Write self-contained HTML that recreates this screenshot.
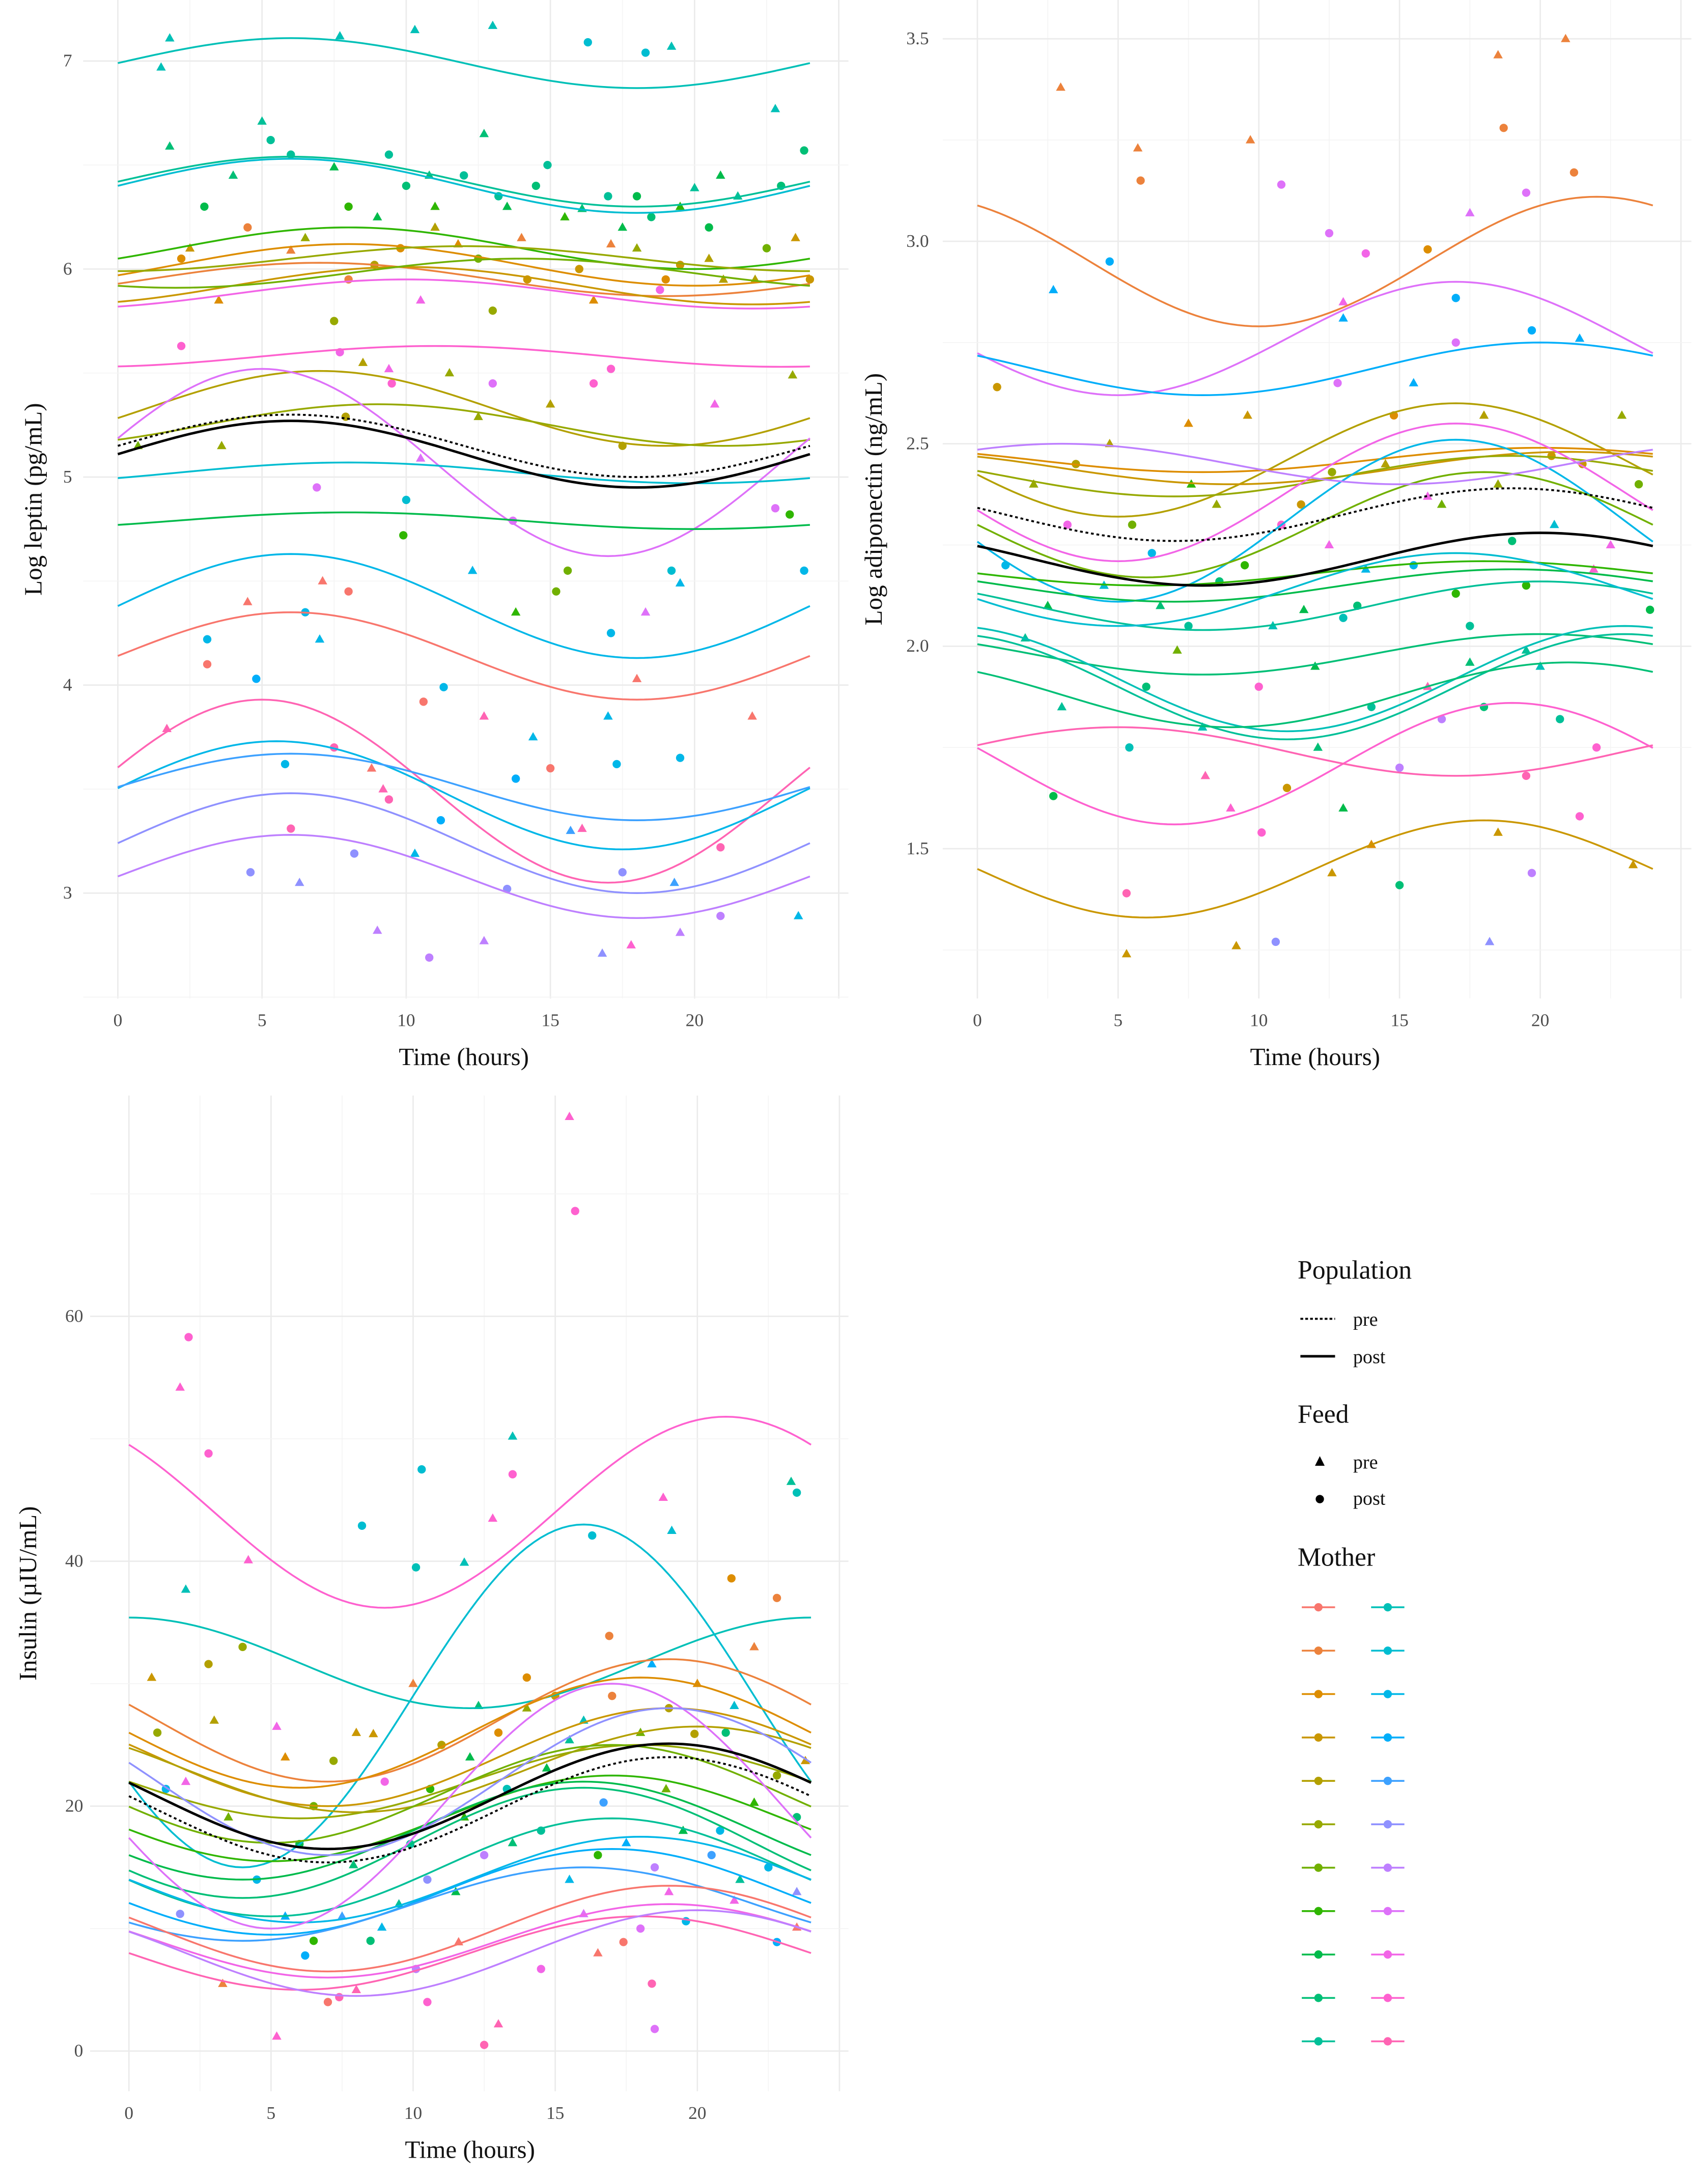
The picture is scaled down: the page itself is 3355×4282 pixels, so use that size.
<!DOCTYPE html>
<html><head><meta charset="utf-8">
<style>
html,body{margin:0;padding:0;background:#fff;}
svg{display:block;font-family:"Liberation Serif",serif;}
</style></head>
<body>
<svg id="chart" width="3355" height="4282" viewBox="0 0 1232 1572" preserveAspectRatio="none" xmlns="http://www.w3.org/2000/svg"></svg>
<script>
// ---------- Panel 1 : leptin ----------
const lepMother=[11,10,12,7,2,1,3,5,6,19,20,4,5,18,12,8,13,0,21,13,15,16,17];
const lepMesor=[6.99,6.42,6.40,6.10,6.02,5.95,5.92,6.05,5.98,5.88,5.58,5.33,5.25,5.07,5.02,4.79,4.38,4.14,3.49,3.47,3.51,3.24,3.08];
const lepAmp=[0.12,0.12,0.13,0.10,0.10,0.08,0.09,0.06,0.07,0.07,0.05,0.18,0.10,0.45,0.05,0.04,0.25,0.21,0.44,0.26,0.16,0.24,0.20];
const lepPeak=[6,6,6,8,8,7,10,12,14,10,11,7,9,5,8,8,6,6,5,5.5,6,6,6];
const lepPopMesor=[5.15,5.11];
const lepPopAmp=[0.15,0.16];
const lepPopPeak=[6,6];
const lepPtsA=[[1.8,7.11,11,0],[7.7,7.12,11,0],[10.3,7.15,11,0],[13,7.17,11,0],[16.3,7.09,12,1],[18.3,7.04,12,1],[19.2,7.07,11,0],[22.8,6.77,11,0],[1.5,6.97,11,0],
[5,6.71,10,0],[1.8,6.59,9,0],[5.3,6.62,10,1],[10.8,6.45,9,0],[13.2,6.35,10,1],[16.1,6.29,9,0],[18,6.35,8,1],[20,6.39,10,0],[23.8,6.57,9,1],[7.5,6.49,8,0],[9.4,6.55,10,1],[12.7,6.65,9,0],[14.9,6.5,10,1],[20.9,6.45,8,0],
[2.2,6.05,2,1],[6,6.09,1,0],[8.9,6.02,4,1],[11.8,6.12,2,0],[14.2,5.95,3,1],[17.1,6.12,1,0],[19.5,6.02,3,1],[22.1,5.95,4,0],[24,5.95,3,1],[3.5,5.85,2,0],[7.5,5.75,5,1],
[2.2,5.63,20,1],[9.4,5.52,19,0],[17.1,5.52,20,1],[20.7,5.35,19,0],
[3.6,5.15,5,0],[7.9,5.29,4,1],[12.5,5.29,5,0],[17.5,5.15,4,1],[23.4,5.49,5,0],
[6.9,4.95,18,1],[10.5,5.09,18,0],[13.7,4.79,18,1],[18.3,4.35,18,0],[22.8,4.85,18,1],
[3.1,4.22,13,1],[7,4.22,13,0],[10,4.89,12,1],[11.3,3.99,13,1],[17.1,4.25,13,1],[19.5,4.49,13,0],[23.8,4.55,13,1],[4.8,4.03,14,1],
[3.1,4.1,0,1],[7.1,4.5,0,0],[10.6,3.92,0,1],[18,4.03,0,0],[22,3.85,0,0],
[0.7,5.15,6,0],[9.9,4.72,7,1],[15.6,4.55,6,1],[23.3,4.82,7,1],
[1.7,3.79,21,0],[6,3.31,21,1],[9.4,3.45,21,1],[12.7,3.85,21,0],[16.1,3.31,21,0],[17.8,2.75,20,0],[20.9,3.22,21,1],
[5.8,3.62,13,1],[10.3,3.19,13,0],[14.4,3.75,13,0],[19.5,3.65,13,1],[17.3,3.62,13,1],[23.6,2.89,13,0],
[4.6,3.1,16,1],[8.2,3.19,16,1],[9,2.82,17,0],[10.8,2.69,17,1],[13.5,3.02,16,1],[16.8,2.71,16,0],[19.5,2.81,17,0],[20.9,2.89,17,1],[12.7,2.77,17,0]];
const lepPtsB=[[3,6.3,8,1],[4,6.45,9,0],[6,6.55,10,1],[8,6.3,7,1],[9,6.25,8,0],[10,6.4,9,1],[11,6.3,7,0],[12,6.45,10,1],[13.5,6.3,8,0],[14.5,6.4,9,1],[15.5,6.25,7,0],[17,6.35,10,1],[17.5,6.2,8,0],[18.5,6.25,9,1],[19.5,6.3,7,0],[20.5,6.2,8,1],[21.5,6.35,10,0],[23,6.4,9,1],
[2.5,6.1,3,0],[4.5,6.2,1,1],[6.5,6.15,5,0],[9.8,6.1,2,1],[11,6.2,4,0],[12.5,6.05,6,1],[14,6.15,1,0],[16,6.0,3,1],[18,6.1,5,0],[19,5.95,2,1],[20.5,6.05,4,0],[22.5,6.1,6,1],[23.5,6.15,3,0],[8,5.95,1,1],[10.5,5.85,19,0],[13,5.8,5,1],[16.5,5.85,2,0],[18.8,5.9,19,1],[21,5.95,4,0],
[7.7,5.6,19,1],[8.5,5.55,4,0],[9.5,5.45,20,1],[11.5,5.5,5,0],[13,5.45,18,1],[15,5.35,4,0],[16.5,5.45,20,1],
[4.5,4.4,0,0],[6.5,4.35,13,1],[8,4.45,0,1],[12.3,4.55,13,0],[13.8,4.35,7,0],[15.2,4.45,6,1],
[9.2,3.5,21,0],[13.8,3.55,14,1],[15.7,3.3,15,0],[17.5,3.1,16,1],[19.3,3.05,15,0],[11.2,3.35,14,1],[6.3,3.05,16,0],[8.8,3.6,0,0],[7.5,3.7,21,1],[15,3.6,0,1],[17,3.85,13,0],[19.2,4.55,12,1]];
const lepPts=lepPtsA.concat(lepPtsB);
const lepYTicks=[3,4,5,6,7];
const xTicks=[0,5,10,15,20];

// ---------- Panel 2 : adiponectin ----------
const adiMother=[1,18,14,4,2,3,5,19,13,6,7,8,10,9,11,20,3,21,17,10,9,12];
const adiMesor=[2.95,2.76,2.685,2.46,2.46,2.44,2.42,2.38,2.31,2.30,2.18,2.15,2.10,1.98,1.92,1.71,1.45,1.74,2.45,1.90,1.88,2.14];
const adiAmp=[0.16,0.14,0.065,0.14,0.03,0.04,0.05,0.17,0.2,0.13,0.03,0.04,0.06,0.05,0.13,0.15,0.12,0.06,0.05,0.13,0.08,0.09];
const adiPeak=[22,17,20,17,20,21,19,17,17,18,18,19,20,20,23,19,18,5,3,23,21,17];
const adiPopMesor=[2.325,2.215];
const adiPopAmp=[0.065,0.065];
const adiPopPeak=[19,20];
const adiPtsA=[[2.96,3.38,1,0],[5.7,3.23,1,0],[9.7,3.25,1,0],[18.5,3.46,1,0],[20.9,3.5,1,0],[18.7,3.28,1,1],[21.2,3.17,1,1],[5.8,3.15,1,1],[16,2.98,2,1],
[10.8,3.14,18,1],[12.5,3.02,18,1],[17.5,3.07,18,0],[19.5,3.12,18,1],[13.8,2.97,19,1],
[2.7,2.88,14,0],[4.7,2.95,14,1],[13,2.81,14,0],[17,2.86,14,1],[19.7,2.78,14,1],[21.4,2.76,14,0],
[0.7,2.64,3,1],[2,2.4,5,0],[3.2,2.3,19,1],[4.7,2.5,4,0],[6.2,2.23,13,1],[7.6,2.4,7,0],[8.6,2.16,9,1],[9.6,2.57,3,0],[10.8,2.3,20,1],[11.6,2.09,8,0],[12.6,2.43,5,1],[13.8,2.19,13,0],[14.8,2.57,2,1],[16,2.37,19,0],[17,2.13,7,1],[18,2.57,4,0],[19,2.26,9,1],[19.5,1.99,10,0],[20.4,2.47,3,1],[21.9,2.19,20,0],[22.9,2.57,5,0],[23.9,2.09,8,1],[1.7,2.02,10,0],[7.1,1.99,6,0],[13,2.07,11,1],[17.5,1.96,9,0],[20.7,1.82,10,1],
[2.7,1.63,8,1],[5.4,1.75,11,1],[8.1,1.68,21,0],[10.1,1.54,20,1],[12.1,1.75,9,0],[14,1.51,2,0],[16.5,1.82,17,1],[18.5,1.54,3,0],[19.5,1.68,21,1],[21.4,1.58,20,1],[5.3,1.39,21,1],[5.3,1.24,3,0],[9.2,1.26,3,0],[10.6,1.27,16,1],[12.6,1.44,3,0],[15,1.41,9,1],[18.2,1.27,16,0],[19.7,1.44,17,1],[23.3,1.46,3,0]];
const adiPtsB=[[1,2.2,13,1],[2.5,2.1,8,0],[3.5,2.45,4,1],[4.5,2.15,12,0],[5.5,2.3,6,1],[6.5,2.1,9,0],[7.5,2.05,10,1],[8.5,2.35,5,0],[9.5,2.2,7,1],[10.5,2.05,11,0],[11.5,2.35,3,1],[12.5,2.25,19,0],[13.5,2.1,9,1],[14.5,2.45,4,0],[15.5,2.2,13,1],[16.5,2.35,6,0],[17.5,2.05,10,1],[18.5,2.4,5,0],[19.5,2.15,7,1],[20.5,2.3,12,0],[21.5,2.45,3,1],[22.5,2.25,19,0],[23.5,2.4,6,1],
[3,1.85,10,0],[6,1.9,9,1],[8,1.8,11,0],[10,1.9,20,1],[12,1.95,8,0],[14,1.85,10,1],[16,1.9,21,0],[18,1.85,9,1],[20,1.95,11,0],[22,1.75,20,1],[9,1.6,20,0],[11,1.65,3,1],[13,1.6,8,0],[15,1.7,17,1],
[7.5,2.55,2,0],[12.8,2.65,18,1],[15.5,2.65,14,0],[17,2.75,18,1],[13,2.85,19,0]];
const adiPts=adiPtsA.concat(adiPtsB);
const adiYTicks=[1.5,2.0,2.5,3.0,3.5];

// ---------- Panel 3 : insulin ----------
const insMother=[20,11,12,1,2,3,4,5,6,7,8,9,10,13,14,15,0,19,21,17,18,16];
const insMesor=[44,31.7,29,27,26,24,23,22,21,19,18,17,15,14,13,12,10,9,8,8,20,22];
const insAmp=[7.8,3.7,14,5,4.5,4,3.5,3,4,3.5,4,4.5,4,3.5,3.5,3,3.5,3,3,3.5,10,6];
const insPeak=[21,0,16,19,18,19,20,18,17,17,16,16,17,18,17,16,19,19,18,20,17,19];
const insPopMesor=[19.7,20.8];
const insPopAmp=[4.3,4.3];
const insPopPeak=[19,19];
const insPtsA=[[15.5,76.3,20,0],[15.7,68.6,20,1],[2.1,58.3,20,1],[1.8,54.2,20,0],[2.8,48.8,20,1],[13.5,50.2,11,0],[13.5,47.1,20,1],[10.3,47.5,12,1],[23.3,46.5,10,0],[23.5,45.6,11,1],[8.2,42.9,12,1],[16.3,42.1,12,1],[18.8,45.2,20,0],[19.1,42.5,12,0],[12.8,43.5,20,0],[4.2,40.1,20,0],[10.1,39.5,11,1],[11.8,39.9,11,0],[2.0,37.7,11,0],[22.8,37.0,1,1],[21.2,38.6,2,1],
[0.8,30.5,3,0],[2.8,31.6,4,1],[5.2,26.5,19,0],[7.2,23.7,5,1],[8.6,25.9,3,0],[10.6,21.4,7,1],[12.3,28.2,9,0],[14,30.5,2,1],[15.5,25.4,10,0],[16.9,33.9,1,1],[18.4,31.6,14,0],[19.9,25.9,4,1],[21.3,28.2,12,0],[22.8,22.5,5,1],[23.8,23.7,3,0],[1.3,21.4,13,1],[3.5,19.1,6,0],[6,16.9,8,1],[7.9,15.2,9,0],[9.9,16.9,10,1],[11.8,19.1,7,0],[13.3,21.4,11,1],[14.7,23.1,8,0],[16.7,20.3,15,1],[18.9,21.4,6,0],[20.8,18,13,1],[22,20.3,7,0],[23.5,19.1,9,1],
[1.8,11.2,16,1],[3.3,5.5,1,0],[5.2,1.2,20,0],[6.2,7.8,14,1],[7.4,4.4,21,1],[8.9,10.1,13,0],[10.1,6.7,17,1],[11.6,8.9,0,0],[12.5,0.5,21,1],[13,2.2,21,0],[14.5,6.7,19,1],[16,11.2,18,0],[17.4,8.9,0,1],[18.4,5.5,21,1],[18.5,1.8,18,1],[19.6,10.6,13,1],[21.3,12.3,19,0],[22.8,8.9,14,1],[23.5,10.1,0,0]];
const insPtsB=[[3,27,4,0],[4,33,5,1],[5.5,24,2,0],[6.5,20,6,1],[8,26,3,0],[9,22,19,1],[10,30,1,0],[11,25,4,1],[12,24,8,0],[13,26,2,1],[14,28,5,0],[15,29,3,1],[16,27,11,0],[17,29,1,1],[18,26,6,0],[19,28,4,1],[20,30,2,0],[21,26,9,1],[22,33,1,0],[1,26,5,1],[2,22,19,0],
[4.5,14,13,1],[5.5,11,14,0],[6.5,9,7,1],[7.5,11,15,0],[8.5,9,9,1],[9.5,12,10,0],[10.5,14,16,1],[11.5,13,8,0],[12.5,16,17,1],[13.5,17,9,0],[14.5,18,10,1],[15.5,14,13,0],[16.5,16,7,1],[17.5,17,14,0],[18.5,15,17,1],[19.5,18,8,0],[20.5,16,15,1],[21.5,14,10,0],[22.5,15,13,1],[23.5,13,16,0],
[7,4,0,1],[8,5,21,0],[10.5,4,20,1],[16.5,8,0,0],[18,10,18,1],[19,13,19,0]];
const insPts=insPtsA.concat(insPtsB);
const insYTicks=[0,20,40,60];

// ---------- helpers ----------
const NS="http://www.w3.org/2000/svg";
const svg=document.getElementById('chart');
function hcl(h,c,l){const hr=h*Math.PI/180;const u=c*Math.cos(hr),v=c*Math.sin(hr);
 const Y=l>8?100*Math.pow((l+16)/116,3):100*l/903.3;const un=0.19784,vn=0.46834;
 const up=u/(13*l)+un,vp=v/(13*l)+vn;const X=Y*9*up/(4*vp);const Z=Y*(12-3*up-20*vp)/(4*vp);
 const x=X/100,y=Y/100,z=Z/100;
 let r=3.2404542*x-1.5371385*y-0.4985314*z,g=-0.9692660*x+1.8760108*y+0.0415560*z,b=0.0556434*x-0.2040259*y+1.0572252*z;
 const gm=t=>{t=t<=0.0031308?12.92*t:1.055*Math.pow(t,1/2.4)-0.055;return Math.round(Math.max(0,Math.min(1,t))*255);};
 return `rgb(${gm(r)},${gm(g)},${gm(b)})`;}
const COLORS=[];for(let i=0;i<22;i++)COLORS.push(hcl(15+360*i/23,100,65));
function el(tag,attrs,parent){const e=document.createElementNS(NS,tag);for(const k in attrs)e.setAttribute(k,attrs[k]);(parent||svg).appendChild(e);return e;}
function cosinor(m,a,p,t){return m+a*Math.cos(2*Math.PI*(t-p)/24);}

function panel(cfg){
 const g=el('g',{});
 
 
 const X=t=>cfg.x0+(t)*cfg.xs;
 const Y=v=>cfg.y0-(v-cfg.v0)*cfg.ys;
 for(let t=-2.5;t<=25;t+=2.5){const x=X(t);if(x<cfg.left||x>cfg.right)continue;
  const l=el('line',{x1:x,x2:x,y1:cfg.top,y2:cfg.bottom,stroke:(t%5===0)?'#ebebeb':'#f4f4f4','stroke-width':(t%5===0)?1:0.6},g);
  }
 const step=cfg.ticks[1]-cfg.ticks[0];
 for(let v=cfg.ticks[0]-step*2;v<=cfg.ticks[cfg.ticks.length-1]+step*2;v+=step/2){const y=Y(v);if(y<cfg.top||y>cfg.bottom)continue;
  const major=Math.abs((v-cfg.ticks[0])/step-Math.round((v-cfg.ticks[0])/step))<1e-6;
  const l=el('line',{x1:cfg.left,x2:cfg.right,y1:y,y2:y,stroke:major?'#ebebeb':'#f4f4f4','stroke-width':major?1:0.6},g);
  }
 cfg.ticks.forEach(v=>{const t=el('text',{x:cfg.tickX,y:Y(v)+4,'text-anchor':'end','font-size':13,fill:'#4d4d4d'},g);t.textContent=cfg.fmt(v);
  });
 xTicks.forEach(v=>{const t=el('text',{x:X(v),y:cfg.bottom+20,'text-anchor':'middle','font-size':13,fill:'#4d4d4d'},g);t.textContent=v;
  });
 const xt=el('text',{x:(X(0)+X(24))/2,y:cfg.bottom+48,'text-anchor':'middle','font-size':18,fill:'#111'},g);xt.textContent='Time (hours)';
 
 const yt=el('text',{x:0,y:0,'text-anchor':'middle','font-size':18,fill:'#111',transform:`translate(${cfg.titleX},${(cfg.top+cfg.bottom)/2}) rotate(-90)`},g);yt.textContent=cfg.title;
 
 cfg.pts.forEach(p=>{const cx=X(p[0]),cy=Y(p[1]),c=COLORS[p[2]];let m;
  if(p[3]===1){m=el('circle',{cx:cx,cy:cy,r:3,fill:c},g);}
  else{m=el('polygon',{points:`${cx},${cy-3.6} ${cx-3.4},${cy+2.4} ${cx+3.4},${cy+2.4}`,fill:c},g);}
  });
 function path(m,a,p){let d='';for(let t=0;t<=24.001;t+=0.25){d+=(t===0?'M':'L')+X(t).toFixed(2)+','+Y(cosinor(m,a,p,t)).toFixed(2);}return d;}
 cfg.mesor.forEach((m,i)=>{const c=el('path',{d:path(m,cfg.amp[i],cfg.peak[i]),fill:'none',stroke:COLORS[cfg.mother[i]],'stroke-width':1.3},g);
  });
 cfg.popM.forEach((m,i)=>{const c=el('path',{d:path(m,cfg.popA[i],cfg.popP[i]),fill:'none',stroke:'#000','stroke-width':i===0?1.4:1.8,'stroke-dasharray':i===0?'2,2':'none'},g);
  });
}

panel({name:'leptin-panel',x0:85,xs:20.8,y0:644,v0:3,ys:150,left:60,right:612,top:0,bottom:720,ticks:lepYTicks,fmt:v=>v,tickX:52,titleX:30,title:'Log leptin (pg/mL)',
 pts:lepPts,mesor:lepMesor,amp:lepAmp,peak:lepPeak,mother:lepMother,popM:lepPopMesor,popA:lepPopAmp,popP:lepPopPeak});
panel({name:'adiponectin-panel',x0:705,xs:20.3,y0:612,v0:1.5,ys:292,left:680,right:1220,top:0,bottom:720,ticks:adiYTicks,fmt:v=>v.toFixed(1),tickX:670,titleX:636,title:'Log adiponectin (ng/mL)',
 pts:adiPts,mesor:adiMesor,amp:adiAmp,peak:adiPeak,mother:adiMother,popM:adiPopMesor,popA:adiPopAmp,popP:adiPopPeak});
panel({name:'insulin-panel',x0:93,xs:20.5,y0:1479,v0:0,ys:8.83,left:65,right:612,top:790,bottom:1508,ticks:insYTicks,fmt:v=>v,tickX:60,titleX:26,title:'Insulin (µIU/mL)',
 pts:insPts,mesor:insMesor,amp:insAmp,peak:insPeak,mother:insMother,popM:insPopMesor,popA:insPopAmp,popP:insPopPeak});

// ---------- legend ----------
const lg=el('g',{});


function txt(x,y,s,size,name){const t=el('text',{x:x,y:y,'font-size':size,fill:'#111'},lg);t.textContent=s;return t;}
txt(936,922,'Population',19,'legend-title-population');
let l1=el('line',{x1:938,x2:963,y1:951,y2:951,stroke:'#000','stroke-width':1.4,'stroke-dasharray':'2,1.5'},lg);

txt(976,956,'pre',14,'legend-label-pre');
let l2=el('line',{x1:938,x2:963,y1:978,y2:978,stroke:'#000','stroke-width':1.8},lg);

txt(976,983,'post',14,'legend-label-post');
txt(936,1026,'Feed',19,'legend-title-feed');
let f1=el('polygon',{points:'952,1050 948.5,1057 955.5,1057',fill:'#000'},lg);

txt(976,1059,'pre',14,'legend-feed-pre-label');
let f2=el('circle',{cx:952,cy:1081,r:3,fill:'#000'},lg);

txt(976,1085,'post',14,'legend-feed-post-label');
txt(936,1129,'Mother',19,'legend-title-mother');
for(let i=0;i<22;i++){const col=Math.floor(i/11),row=i%11;const cx=951+col*50,cy=1159+row*31.3;
 const k=el('g',{},lg);
 
 
 el('line',{x1:cx-12,x2:cx+12,y1:cy,y2:cy,stroke:COLORS[i],'stroke-width':1.3},k);
 el('circle',{cx:cx,cy:cy,r:3,fill:COLORS[i]},k);}
</script>
</body></html>
